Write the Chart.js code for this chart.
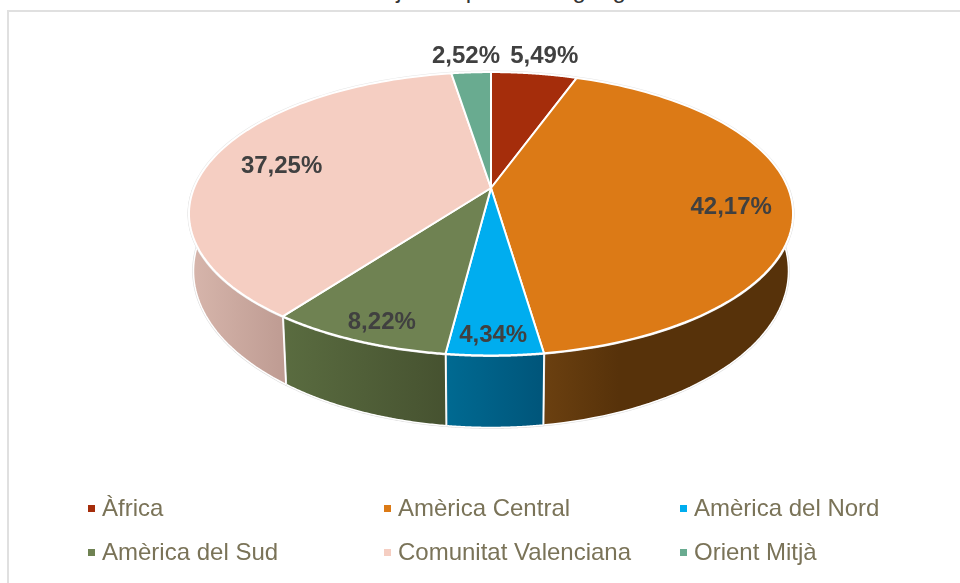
<!DOCTYPE html>
<html>
<head>
<meta charset="utf-8">
<style>
    html, body { margin: 0; padding: 0; background: #fff; overflow: hidden; }
    #stage { position: relative; width: 960px; height: 583px; overflow: hidden; font-family: "Liberation Sans", Arial, sans-serif; }
    #frame { position: absolute; left: 7px; top: 10px; width: 960px; height: 600px; border: 2px solid #e0e0e0; box-sizing: border-box; }
    #title { position: absolute; left: 359px; top: -22px; font-size: 24px; line-height: 24px; color: #333; white-space: nowrap; }
    #chart { position: absolute; left: 0; top: 0; }
    .legend-item { position: absolute; font-size: 24px; line-height: 28px; color: #7a7358; white-space: nowrap; }
    .legend-item i { position: absolute; left: -14px; top: 11px; width: 7px; height: 7px; }
</style>
</head>
<body>
<div id="stage">
    <div id="frame"></div>
    <div id="title">Projectes per àmbit geogràfic</div>
    <canvas id="chart" width="960" height="583"></canvas>
</div>
<script src="https://cdn.jsdelivr.net/npm/chart.js@4"></script>
<script>
// --- data ---
const categories = ['Àfrica', 'Amèrica Central', 'Amèrica del Nord', 'Amèrica del Sud', 'Comunitat Valenciana', 'Orient Mitjà'];
const shares = [5.49, 42.17, 4.34, 8.22, 37.25, 2.52];

// --- styles ---
const topColors = ['#a52d0b', '#dc7a16', '#00adef', '#6f8252', '#f5cec2', '#69ab90'];
const wallFrom = ['#7a2108', '#6b4010', '#006a92', '#5a6c40', '#d7b6ac', '#4c7d69'];
const wallTo = ['#7a2108', '#57320a', '#00557a', '#465230', '#bf9c93', '#4c7d69'];
const wallFade = [1, 0.3, 1, 1, 1, 1];
const labelReach = [1.21, 0.8, 0.89, 0.88, 0.75, 1.19]; // how far out each label sits, 1 = rim
const labelTurn = [0.5, 3, 0.2, -1.2, 0, -0.4]; // degrees off the middle of the slice
const labelDrop = 2;
const legendCols = [102, 398, 694];
const legendRows = [494, 538];

// the disc is seen in perspective, so the front is further from the centre than the back
const stretchX = 2.168;
const tilt = 0.1817;
const wallDepth = 72, wallFrontY = 355, wallGrow = 0.105, wallNarrow = 0.985;

function rim(arc, angle, reach = 1) {
    const u = Math.cos(angle) * reach;
    const v = Math.sin(angle) * reach;
    const d = 1 - tilt * v;
    return {
        x: arc.x + arc.outerRadius * stretchX * u / d,
        y: arc.y + arc.outerRadius * v / d,
        v: v
    };
}

function lowerRim(arc, p) {
    return {
        x: arc.x + wallNarrow * (p.x - arc.x),
        y: p.y + wallDepth + wallGrow * (p.y - wallFrontY)
    };
}

function rimPoints(arc) {
    const pts = [];
    for (let i = 0; i <= 90; i++) {
        pts.push(rim(arc, arc.startAngle + (arc.endAngle - arc.startAngle) * i / 90));
    }
    return pts;
}

const pie3d = {
    id: 'pie3d',
    beforeDatasetDraw(chart) {
        const ctx = chart.ctx;
        const arcs = chart.getDatasetMeta(0).data;
        ctx.save();
        ctx.lineJoin = 'round';

        // side walls first, only the part facing the viewer
        arcs.forEach((arc, i) => {
            const front = rimPoints(arc).filter(p => p.v >= 0);
            if (front.length < 2) return;
            const low = front.map(p => lowerRim(arc, p));

            const xs = front.filter(p => p.v >= tilt).map(p => p.x);
            const grad = ctx.createLinearGradient(Math.min(...xs), 0, Math.max(...xs), 0);
            grad.addColorStop(0, wallFrom[i]);
            grad.addColorStop(wallFade[i], wallTo[i]);

            ctx.beginPath();
            front.forEach((p, j) => j ? ctx.lineTo(p.x, p.y) : ctx.moveTo(p.x, p.y));
            low.reverse().forEach(p => ctx.lineTo(p.x, p.y));
            ctx.closePath();
            ctx.strokeStyle = '#dcdcdc';
            ctx.lineWidth = 2.6;
            ctx.stroke();
            ctx.fillStyle = grad;
            ctx.fill();
            ctx.strokeStyle = '#fff';
            ctx.lineWidth = 1.5;
            ctx.stroke();
        });

        // faint outline round the top disc
        ctx.beginPath();
        arcs.forEach(arc => rimPoints(arc).forEach(p => ctx.lineTo(p.x, p.y)));
        ctx.closePath();
        ctx.strokeStyle = '#e6e6e6';
        ctx.lineWidth = 3;
        ctx.stroke();

        // top faces
        arcs.forEach(arc => {
            ctx.beginPath();
            ctx.moveTo(arc.x, arc.y);
            rimPoints(arc).forEach(p => ctx.lineTo(p.x, p.y));
            ctx.closePath();
            ctx.fillStyle = arc.options.backgroundColor;
            ctx.fill();
            ctx.strokeStyle = '#fff';
            ctx.lineWidth = 2;
            ctx.stroke();
        });
        ctx.restore();
        return false; // the library's flat arcs are replaced by the ones above
    },
    afterDatasetsDraw(chart) {
        const ctx = chart.ctx;
        const values = chart.data.datasets[0].data;
        ctx.save();
        ctx.font = 'bold 24px "Liberation Sans", Arial, sans-serif';
        ctx.fillStyle = '#404040';
        ctx.textAlign = 'center';
        ctx.textBaseline = 'middle';
        chart.getDatasetMeta(0).data.forEach((arc, i) => {
            const mid = (arc.startAngle + arc.endAngle) / 2 + labelTurn[i] * Math.PI / 180;
            const p = rim(arc, mid, labelReach[i]);
            ctx.fillText(values[i].toFixed(2).replace('.', ',') + '%', p.x, p.y + labelDrop);
        });
        ctx.restore();
    }
};

const chart = new Chart(document.getElementById('chart'), {
    type: 'pie',
    data: {
        labels: categories,
        datasets: [{ data: shares, backgroundColor: topColors, borderWidth: 0 }]
    },
    options: {
        responsive: false,
        animation: false,
        layout: { padding: { left: 200, right: 178, top: 51, bottom: 258 } },
        plugins: { legend: { display: false }, tooltip: { enabled: false } }
    },
    plugins: [pie3d]
});

// --- legend, three columns on two rows ---
const stage = document.getElementById('stage');
categories.forEach((name, i) => {
    const item = document.createElement('div');
    item.className = 'legend-item';
    item.style.left = legendCols[i % 3] + 'px';
    item.style.top = legendRows[Math.floor(i / 3)] + 'px';
    item.innerHTML = `<i style="background:${topColors[i]}"></i>${name}`;
    stage.appendChild(item);
});
</script>
</body>
</html>
